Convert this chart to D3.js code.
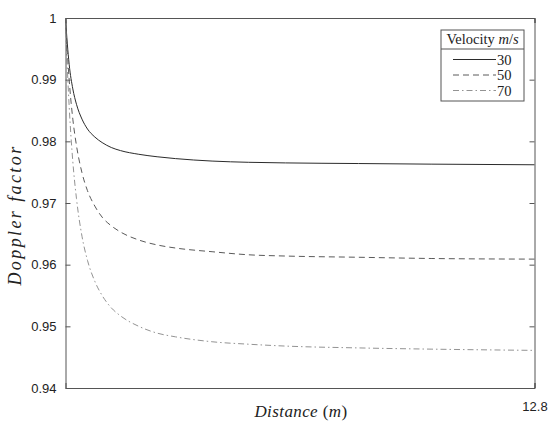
<!DOCTYPE html>
<html>
<head>
<meta charset="utf-8">
<script src="https://cdn.jsdelivr.net/npm/d3@7/dist/d3.min.js"></script>
<style>
  html, body { margin: 0; padding: 0; background: #fff; }
  svg { display: block; }
</style>
</head>
<body>
<svg id="chart" width="549" height="433"></svg>
<script>
// Distance along the track (m)
const distance = [0, 0.05, 0.1, 0.2, 0.3, 0.45, 0.6, 0.8, 1.0, 1.25, 1.5, 2, 2.5, 3, 4, 5, 6, 8, 10, 12.8];

// Doppler factor for each source velocity
const velocities = [30, 50, 70];
const doppler30 = [1, 0.9958, 0.9925, 0.9885, 0.9860, 0.9836, 0.9820, 0.9807, 0.9798, 0.9790, 0.9785, 0.9779, 0.9775, 0.9772, 0.9768, 0.9766, 0.9765, 0.9764, 0.9763, 0.9762];
const doppler50 = [1, 0.9944, 0.9900, 0.9836, 0.9793, 0.9749, 0.9720, 0.9695, 0.9677, 0.9663, 0.9653, 0.9640, 0.9632, 0.9627, 0.9621, 0.9616, 0.9614, 0.9612, 0.9610, 0.9609];
const doppler70 = [1, 0.9919, 0.9857, 0.9767, 0.9707, 0.9646, 0.9607, 0.9573, 0.9550, 0.9530, 0.9517, 0.9500, 0.9489, 0.9483, 0.9475, 0.9471, 0.9468, 0.9465, 0.9463, 0.9461];

const yTicks = [0.94, 0.95, 0.96, 0.97, 0.98, 0.99, 1];
const xTicks = [12.8];

const series = [
  { v: velocities[0], values: doppler30, color: "#2b2b2b", dash: null },
  { v: velocities[1], values: doppler50, color: "#5a5a5a", dash: "6,4" },
  { v: velocities[2], values: doppler70, color: "#939393", dash: "6,3,1.5,3" }
];

const SANS = "Liberation Sans, Arial, Helvetica, sans-serif";
const SERIF = "Liberation Serif, DejaVu Serif, Times New Roman, serif";

const svg = d3.select("#chart");
const plotLeft = 65.5, plotRight = 534.5, plotTop = 18, plotBottom = 388;

const x = d3.scaleLinear().domain([0, 12.8]).range([plotLeft, plotRight]);
const y = d3.scaleLinear().domain([0.94, 1]).range([plotBottom, plotTop]);

const axisColor = "#555";

// Curves
const line = d3.line()
  .x((d, i) => x(distance[i]))
  .y(d => y(d))
  .curve(d3.curveMonotoneX);

series.forEach(s => {
  svg.append("path")
    .datum(s.values)
    .attr("fill", "none")
    .attr("stroke", s.color)
    .attr("stroke-width", 1)
    .attr("stroke-dasharray", s.dash)
    .attr("d", line);
});

// Axes with inward ticks on all four sides
const yLeft = svg.append("g").attr("transform", `translate(${plotLeft},0)`)
  .call(d3.axisLeft(y).tickValues(yTicks).tickFormat(d3.format("")).tickSize(-5).tickPadding(9));
const yRight = svg.append("g").attr("transform", `translate(${plotRight},0)`)
  .call(d3.axisRight(y).tickValues(yTicks).tickFormat("").tickSize(-5));
const xBottom = svg.append("g").attr("transform", `translate(0,${plotBottom})`)
  .call(d3.axisBottom(x).tickValues(xTicks).tickFormat(d3.format("")).tickSize(-5).tickPadding(14));
const xTop = svg.append("g").attr("transform", `translate(0,${plotTop})`)
  .call(d3.axisTop(x).tickValues(xTicks).tickFormat("").tickSize(-5));

[yLeft, yRight, xBottom, xTop].forEach(g => {
  g.attr("font-family", SANS).attr("font-size", 13);
  g.selectAll(".domain").attr("stroke", axisColor).attr("stroke-width", 1);
  g.selectAll(".tick line").attr("stroke", axisColor);
  g.selectAll("text").attr("fill", "#222");
});

// Axis titles
svg.append("text")
  .attr("font-family", SERIF).attr("font-size", 17)
  .attr("x", 301).attr("y", 417)
  .attr("text-anchor", "middle")
  .attr("letter-spacing", 0.4)
  .attr("fill", "#222")
  .html("<tspan font-style='italic'>Distance</tspan> (<tspan font-style='italic'>m</tspan>)");

svg.append("text")
  .attr("font-family", SERIF).attr("font-size", 18).attr("font-style", "italic")
  .attr("letter-spacing", 2.4)
  .attr("transform", "translate(21,215) rotate(-90)")
  .attr("text-anchor", "middle")
  .attr("fill", "#222")
  .text("Doppler factor");

// Legend
const lg = svg.append("g");
const lx0 = 441, lx1 = 524, ly0 = 30, ly1 = 101, lsep = 49;
lg.append("rect")
  .attr("x", lx0).attr("y", ly0).attr("width", lx1 - lx0).attr("height", ly1 - ly0)
  .attr("fill", "#fff").attr("stroke", "#555").attr("stroke-width", 1);
lg.append("line")
  .attr("x1", lx0).attr("x2", lx1).attr("y1", lsep).attr("y2", lsep)
  .attr("stroke", "#555").attr("stroke-width", 1);
lg.append("text")
  .attr("font-family", SERIF).attr("font-size", 14.5)
  .attr("x", (lx0 + lx1) / 2).attr("y", 44)
  .attr("text-anchor", "middle")
  .attr("fill", "#222")
  .html("Velocity <tspan font-style='italic'>m</tspan>/<tspan font-style='italic'>s</tspan>");

const legendY = d3.scalePoint().domain(velocities).range([59.5, 90.5]);
series.forEach(s => {
  const yy = legendY(s.v);
  lg.append("line")
    .attr("x1", 453).attr("x2", 496).attr("y1", yy).attr("y2", yy)
    .attr("stroke", s.color).attr("stroke-width", 1)
    .attr("stroke-dasharray", s.dash);
  lg.append("text")
    .attr("font-family", SERIF).attr("font-size", 14.5)
    .attr("x", 497).attr("y", yy + 5)
    .attr("fill", "#222")
    .text(s.v);
});
</script>
</body>
</html>
